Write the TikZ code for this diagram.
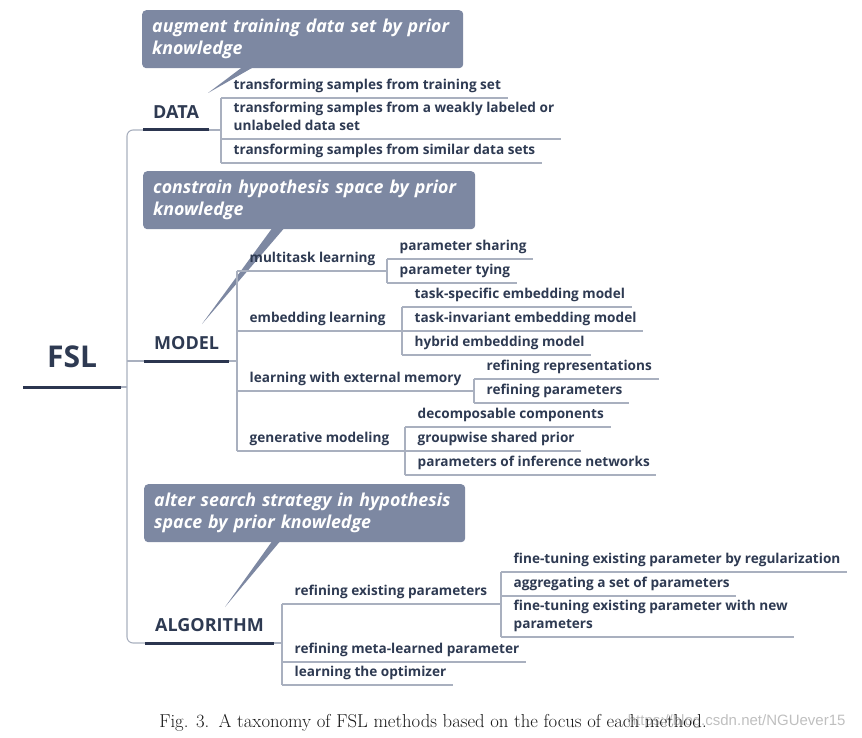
\documentclass[tikz,border=0pt]{standalone}
\usepackage{fontspec}
\newfontfamily\mapfont{Open Sans}
\newfontfamily\markfont{Liberation Sans}
\definecolor{ink}{HTML}{2E3A52}
\definecolor{navy}{HTML}{2B354F}
\definecolor{branch}{HTML}{A9B0BF}
\definecolor{slate}{HTML}{7D88A2}
\tikzset{
  trunk/.style={navy, line width=3pt},
  twig/.style={branch, line width=1.1pt},
  note/.style={anchor=north west, fill=slate, rounded corners=4pt, text=white,
    align=left, inner xsep=10pt, minimum height=58pt,
    font=\mapfont\bfseries\itshape\fontsize{17.8}{22}\selectfont},
  topic/.style={anchor=south west, inner xsep=10pt, inner ysep=11pt, text depth=0pt,
    text=ink, font=\mapfont\bfseries\fontsize{18}{20}\selectfont},
  leaf/.style={anchor=south west, xshift=6pt, inner xsep=6.5pt, inner ysep=5.5pt,
    text depth=3pt, align=left, text=ink,
    font=\mapfont\bfseries\fontsize{13.6}{18}\selectfont}
}
\begin{document}
\begin{tikzpicture}[x=1pt, y=-1pt]
  \useasboundingbox (0,0) rectangle (862,738);

  % prior knowledge notes
  \node[note, text width=301pt] (n1) at (142,10) {augment training data set by prior\\knowledge};
  \node[note, text width=312pt] (n2) at (143,171) {constrain hypothesis space by prior\\knowledge};
  \node[note, text width=301pt] (n3) at (144,484) {alter search strategy in hypothesis\\space by prior knowledge};
  \coordinate (t1) at (208,93);
  \coordinate (t2) at (202,324);
  \coordinate (t3) at (225,607);
  \fill[slate] ([xshift=100pt, yshift=1pt]n1.south west) -- (t1) -- ([xshift=111pt, yshift=1pt]n1.south west) -- cycle;
  \fill[slate] ([xshift=129pt, yshift=1pt]n2.south west) -- (t2) -- ([xshift=141pt, yshift=1pt]n2.south west) -- cycle;
  \fill[slate] ([xshift=128pt, yshift=1pt]n3.south west) -- (t3) -- ([xshift=136pt, yshift=1pt]n3.south west) -- cycle;

  % root and main topics
  \node[topic, inner xsep=24pt, inner ysep=19pt, font=\mapfont\bfseries\fontsize{30}{32}\selectfont] (fsl) at (23,387) {FSL};
  \node[topic] (data) at (143,130) {DATA};
  \node[topic] (model) at (144,361) {MODEL};
  \node[topic] (algo) at (145,643) {ALGORITHM};
  \coordinate (sp) at (127,387);

  % junctions
  \coordinate (dj) at (221,130);
  \coordinate (mj) at (237,361);
  \coordinate (aj) at (282,643);
  \coordinate (mtj) at (387,271);
  \coordinate (ej) at (402,331);
  \coordinate (xj) at (474,391);
  \coordinate (gj) at (405,451);
  \coordinate (rj) at (501,604);

  % DATA
  \node[leaf] (d1) at (dj |- 0,98) {transforming samples from training set};
  \node[leaf] (d2) at (dj |- 0,139) {transforming samples from a weakly labeled or\\unlabeled data set};
  \node[leaf] (d3) at (dj |- 0,163) {transforming samples from similar data sets};

  % MODEL
  \node[leaf] (m1) at (mj |- 0,271) {multitask learning};
  \node[leaf] (m2) at (mj |- 0,331) {embedding learning};
  \node[leaf] (m3) at (mj |- 0,391) {learning with external memory};
  \node[leaf] (m4) at (mj |- 0,451) {generative modeling};
  \node[leaf] (p1) at (mtj |- 0,259) {parameter sharing};
  \node[leaf] (p2) at (mtj |- 0,283) {parameter tying};
  \node[leaf] (e1) at (ej |- 0,307) {task-specific embedding model};
  \node[leaf] (e2) at (ej |- 0,331) {task-invariant embedding model};
  \node[leaf] (e3) at (ej |- 0,355) {hybrid embedding model};
  \node[leaf] (x1) at (xj |- 0,379) {refining representations};
  \node[leaf] (x2) at (xj |- 0,403) {refining parameters};
  \node[leaf] (g1) at (gj |- 0,427) {decomposable components};
  \node[leaf] (g2) at (gj |- 0,451) {groupwise shared prior};
  \node[leaf] (g3) at (gj |- 0,475) {parameters of inference networks};

  % ALGORITHM
  \node[leaf] (a1) at (aj |- 0,604) {refining existing parameters};
  \node[leaf] (a2) at (aj |- 0,662) {refining meta-learned parameter};
  \node[leaf] (a3) at (aj |- 0,685) {learning the optimizer};
  \node[leaf] (r1) at (rj |- 0,572) {fine-tuning existing parameter by regularization};
  \node[leaf] (r2) at (rj |- 0,596) {aggregating a set of parameters};
  \node[leaf] (r3) at (rj |- 0,637) {fine-tuning existing parameter with new\\parameters};

  % spine
  \draw[twig, rounded corners=6pt] (data.south west) -| (sp) |- (algo.south west);
  \draw[twig] (fsl.south east) -- (sp);
  \draw[twig] (sp |- model.south west) -- (model.south west);
  \foreach \t in {fsl,data,model,algo}
    \draw[trunk] (\t.south west) -- (\t.south east);

  % branches
  \foreach \p/\j in {data/dj,model/mj,algo/aj,m1/mtj,m2/ej,m3/xj,m4/gj,a1/rj}
    \draw[twig] (\p.south east) -- (\j);
  \foreach \a/\b/\j in {d1/d3/dj,m1/m4/mj,p1/p2/mtj,e1/e3/ej,x1/x2/xj,g1/g3/gj,a1/a3/aj,r1/r3/rj}
    \draw[twig] (\j |- \a.south) -- (\j |- \b.south);
  \foreach \n/\j in {d1/dj,d2/dj,d3/dj,m1/mj,m2/mj,m3/mj,m4/mj,p1/mtj,p2/mtj,e1/ej,e2/ej,e3/ej,
      x1/xj,x2/xj,g1/gj,g2/gj,g3/gj,a1/aj,a2/aj,a3/aj,r1/rj,r2/rj,r3/rj}
    \draw[twig] (\j |- \n.south) -- (\n.south east);

  % caption
  \node[anchor=east, text=black!25, font=\markfont\fontsize{15}{15}\selectfont] (wm) at (849,722) {https://blog.csdn.net/NGUever15};
  \node[text=black!90, font=\fontsize{18.7}{21}\selectfont] (cap) at (433,723) {Fig. 3.\enspace A taxonomy of FSL methods based on the focus of each method.};
\end{tikzpicture}
\end{document}
